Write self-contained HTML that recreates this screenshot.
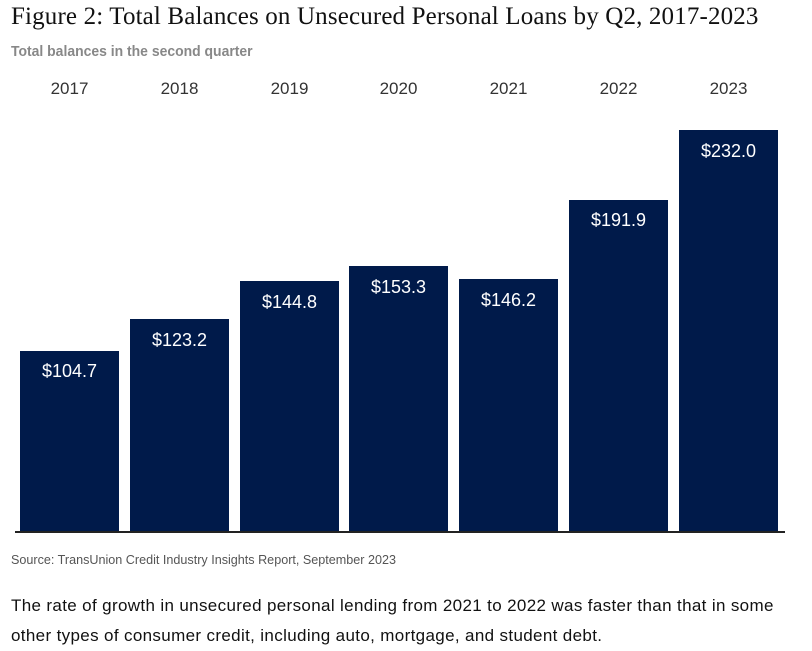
<!DOCTYPE html>
<html><head><style>
body{margin:0;width:812px;height:649px;background:#fff;position:relative;overflow:hidden;font-family:"Liberation Sans",sans-serif}
.a{position:absolute;white-space:nowrap}
.bar{position:absolute;background:#001a4a;width:99px;bottom:118px}
.v{position:absolute;width:99px;text-align:center;color:#fff;font-size:18px}
.y{position:absolute;width:99px;text-align:center;color:#333;font-size:17px;top:79px}
</style></head><body>
<div class="a" style="left:11px;top:3px;font-family:'Liberation Serif',serif;font-size:25px;letter-spacing:0.15px;color:#111">Figure 2: Total Balances on Unsecured Personal Loans by Q2, 2017-2023</div>
<div class="a" style="left:11px;top:43px;font-size:15px;font-weight:bold;color:#888;transform:scaleX(0.93);transform-origin:left">Total balances in the second quarter</div>

<div class="y" style="left:20px">2017</div>
<div class="y" style="left:130px">2018</div>
<div class="y" style="left:240px">2019</div>
<div class="y" style="left:349px">2020</div>
<div class="y" style="left:459px">2021</div>
<div class="y" style="left:569px">2022</div>
<div class="y" style="left:679px">2023</div>

<div class="bar" style="left:20px;top:351px"></div>
<div class="bar" style="left:130px;top:319px"></div>
<div class="bar" style="left:240px;top:281px"></div>
<div class="bar" style="left:349px;top:266px"></div>
<div class="bar" style="left:459px;top:279px"></div>
<div class="bar" style="left:569px;top:200px"></div>
<div class="bar" style="left:679px;top:130px"></div>

<div class="v" style="left:20px;top:361px">$104.7</div>
<div class="v" style="left:130px;top:330px">$123.2</div>
<div class="v" style="left:240px;top:292px">$144.8</div>
<div class="v" style="left:349px;top:277px">$153.3</div>
<div class="v" style="left:459px;top:290px">$146.2</div>
<div class="v" style="left:569px;top:210px">$191.9</div>
<div class="v" style="left:679px;top:141px">$232.0</div>

<div class="a" style="left:15px;top:531px;width:770px;height:2px;background:#222"></div>
<div class="a" style="left:11px;top:553px;font-size:12.6px;color:#555">Source: TransUnion Credit Industry Insights Report, September 2023</div>
<div class="a" style="left:11px;top:591px;font-size:17px;letter-spacing:0.35px;color:#111;line-height:30px">The rate of growth in unsecured personal lending from 2021 to 2022 was faster than that in some<br>other types of consumer credit, including auto, mortgage, and student debt.</div>
</body></html>
